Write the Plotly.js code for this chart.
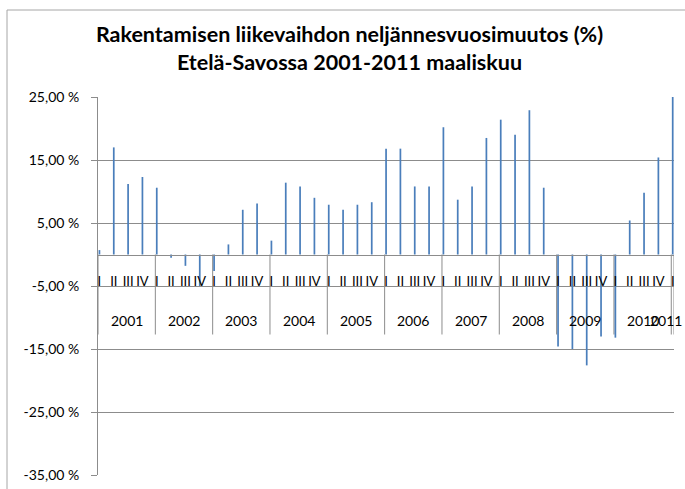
<!DOCTYPE html>
<html>
<head>
<meta charset="utf-8">
<script src="https://cdn.plot.ly/plotly-3.0.1.min.js"></script>
<style>
html,body{margin:0;padding:0;background:#fff;}
#chart{width:685px;height:489px;}
</style>
</head>
<body>
<div id="chart"></div>
<script>
const years = ["2001","2001","2001","2001","2002","2002","2002","2002","2003","2003","2003","2003",
  "2004","2004","2004","2004","2005","2005","2005","2005","2006","2006","2006","2006",
  "2007","2007","2007","2007","2008","2008","2008","2008","2009","2009","2009","2009",
  "2010","2010","2010","2010","2011"];
const quarters = ["I","II","III","IV","I","II","III","IV","I","II","III","IV",
  "I","II","III","IV","I","II","III","IV","I","II","III","IV",
  "I","II","III","IV","I","II","III","IV","I","II","III","IV",
  "I","II","III","IV","I"];
const changes = [0.7, 17.0, 11.2, 12.3,
  10.6, -0.5, -1.8, -5.0,
  -2.6, 1.6, 7.1, 8.1,
  2.2, 11.4, 10.8, 9.0,
  7.9, 7.1, 7.9, 8.3,
  16.8, 16.8, 10.8, 10.8,
  20.2, 8.7, 10.8, 18.5,
  21.4, 19.0, 22.9, 10.6,
  -14.6, -15.0, -17.6, -13.0,
  -13.2, 5.4, 9.8, 15.4,
  25.1];
const yTickVals = [-35, -25, -15, -5, 5, 15, 25];
const yTickText = ["-35,00 %", "-25,00 %", "-15,00 %", "-5,00 %", "5,00 %", "15,00 %", "25,00 %"];
const titleText = "Rakentamisen liikevaihdon neljännesvuosimuutos (%)<br>Etelä-Savossa 2001-2011 maaliskuu";

const yMin = -35, yMax = 25;
const zeroFrac = (0 - yMin) / (yMax - yMin);
const xStart = -0.1, xEnd = 40.09;
const dividerBottom = -12.7;   // depth of the category label band (in y units)
const yearLabelY = -10.5;

// category ids for the flat axis
const ids = years.map((y, i) => y + " " + quarters[i]);

// year groups derived from the data arrays
const groups = [];
years.forEach((y, i) => {
  const g = groups[groups.length - 1];
  if (!g || g.year !== y) groups.push({year: y, first: i, last: i});
  else g.last = i;
});

const shapes = [];
const annotations = [];
groups.forEach((g, k) => {
  const isLast = k === groups.length - 1;
  const left = g.first + xStart;
  const right = isLast ? xEnd : groups[k + 1].first + xStart;
  shapes.push({type: "line", xref: "x", yref: "y", x0: left, x1: left, y0: 0, y1: dividerBottom,
    line: {color: "#8c8c8c", width: 1}, layer: "below"});
  if (isLast) {
    shapes.push({type: "line", xref: "x", yref: "y", x0: right, x1: right, y0: 0, y1: dividerBottom,
      line: {color: "#8c8c8c", width: 1}, layer: "below"});
  }
  annotations.push({xref: "x", yref: "y", x: (left + right) / 2, y: yearLabelY,
    xshift: isLast ? -7 : 0,
    text: g.year, showarrow: false, xanchor: "center", yanchor: "middle",
    font: {family: "Lato, sans-serif", size: 14, color: "#000"}});
});

// chart-area border (extends past the cropped right/bottom edges)
shapes.push({
  type: "rect", xref: "paper", yref: "paper",
  x0: (7 - 98) / 576, x1: 2, y0: -1, y1: (475 - 10) / 378,
  line: {color: "#a6a6a6", width: 1}, fillcolor: "rgba(0,0,0,0)", layer: "below"
});

const trace = {
  type: "bar",
  x: ids,
  y: changes,
  width: 0.12,
  offset: -0.06,
  marker: {color: "#4a7ebb", line: {width: 0}},
  hoverinfo: "skip"
};

const layout = {
  width: 685, height: 489,
  margin: {l: 98, r: 11, t: 97, b: 14},
  paper_bgcolor: "#ffffff",
  plot_bgcolor: "#ffffff",
  showlegend: false,
  font: {family: "Lato, 'Open Sans', sans-serif", size: 14, color: "#000"},
  title: {
    text: titleText,
    font: {family: "Lato, sans-serif", size: 21.5, color: "#000", weight: "bold"},
    xref: "container", x: 0.5102, xanchor: "center",
    yref: "container", y: 1 - 42/489, yanchor: "middle"
  },
  xaxis: {
    type: "category",
    range: [xStart, xEnd],
    anchor: "free",
    position: zeroFrac,
    showgrid: false,
    showline: true, linecolor: "#8c8c8c", linewidth: 1,
    tickmode: "array", tickvals: ids, ticktext: quarters,
    ticks: "", tickangle: 0,
    ticklabelstandoff: 15,
    tickfont: {family: "Lato, sans-serif", size: 13, color: "#000"},
    automargin: false,
    zeroline: false
  },
  yaxis: {
    range: [yMin, yMax],
    tickmode: "array", tickvals: yTickVals, ticktext: yTickText,
    showgrid: true, gridcolor: "#8c8c8c", gridwidth: 1,
    showline: true, linecolor: "#8c8c8c", linewidth: 1,
    ticks: "outside", ticklen: 6, tickcolor: "#8c8c8c",
    ticklabelstandoff: 9,
    zeroline: false,
    tickfont: {family: "Lato, sans-serif", size: 14, color: "#000"},
    automargin: false
  },
  shapes: shapes,
  annotations: annotations
};

Plotly.newPlot("chart", [trace], layout, {displayModeBar: false, staticPlot: true});
</script>
</body>
</html>
